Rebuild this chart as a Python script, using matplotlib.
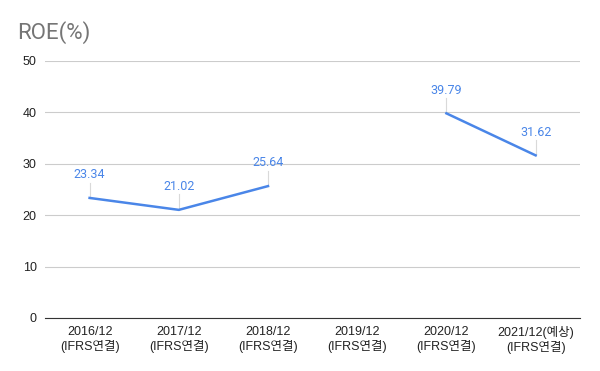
import numpy as np
import matplotlib
matplotlib.use('Agg')
from matplotlib import pyplot as plt

# Datos del grafico
categories = ['2016/12\n(IFRS연결)', '2017/12\n(IFRS연결)', '2018/12\n(IFRS연결)',
              '2019/12\n(IFRS연결)', '2020/12\n(IFRS연결)', '2021/12(예상)\n(IFRS연결)']
roe = [23.34, 21.02, 25.64, np.nan, 39.79, 31.62]
y_ticks = [0, 10, 20, 30, 40, 50]

plt.rcParams['font.family'] = ['Liberation Sans', 'Noto Sans CJK KR']

fig = plt.figure(figsize=(6, 3.71), dpi=100)
ax = fig.add_axes([0.075, 0.143, 0.892, 0.693])

x = np.arange(len(categories))
ax.plot(x, roe, color='#4a86e8', linewidth=1.8, zorder=3)

# Etiquetas de datos con lineas guia
for xi, v in zip(x, roe):
    if np.isnan(v):
        continue
    ax.plot([xi, xi], [v, v + 3.0], color='#d9d9d9', linewidth=0.8, zorder=2)
    ax.annotate(f'{v:.2f}', (xi, v), xytext=(0, 12), textcoords='offset points',
                ha='center', va='bottom', fontsize=9, color='#4a86e8',
                family=['Roboto', 'DejaVu Sans'])

ax.set_xlim(-0.5, len(categories) - 0.5)
ax.set_ylim(0, 50)
ax.set_yticks(y_ticks)
ax.set_xticks(x)
ax.set_xticklabels(categories, fontsize=9, color='#222222')
ax.tick_params(axis='y', labelsize=9, colors='#222222', length=0, pad=6)
ax.tick_params(axis='x', length=0, pad=6)
ax.grid(axis='y', color='#cccccc', linewidth=0.8)
ax.set_axisbelow(True)
for s in ['top', 'right', 'left']:
    ax.spines[s].set_visible(False)
ax.spines['bottom'].set_color('#333333')

fig.text(0.028, 0.912, 'ROE(%)', fontsize=16, color='#757575',
         family=['Roboto', 'DejaVu Sans'], va='center')

fig.savefig('out.png', dpi=100)
